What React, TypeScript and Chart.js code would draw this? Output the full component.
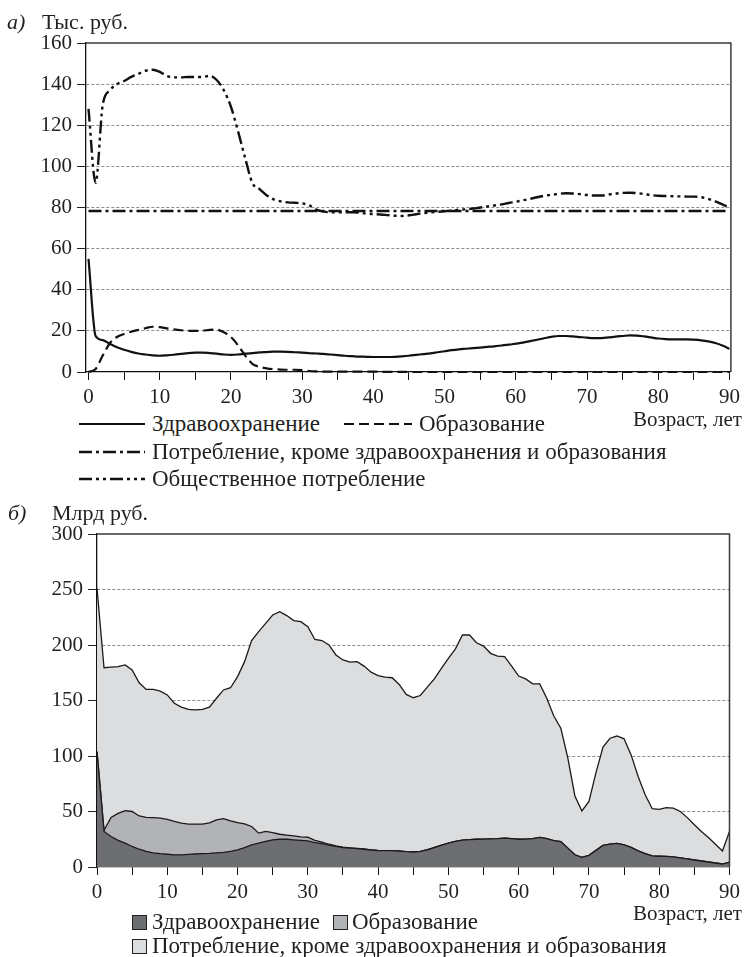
import React, { useEffect, useRef } from "react";
import { Chart, registerables } from "chart.js";
Chart.register(...registerables);

// ---------- data ----------
const AGES = [
  0, 1, 2, 3, 4, 5, 6, 7, 8, 9,
  10, 11, 12, 13, 14, 15, 16, 17, 18, 19,
  20, 21, 22, 23, 24, 25, 26, 27, 28, 29,
  30, 31, 32, 33, 34, 35, 36, 37, 38, 39,
  40, 41, 42, 43, 44, 45, 46, 47, 48, 49,
  50, 51, 52, 53, 54, 55, 56, 57, 58, 59,
  60, 61, 62, 63, 64, 65, 66, 67, 68, 69,
  70, 71, 72, 73, 74, 75, 76, 77, 78, 79,
  80, 81, 82, 83, 84, 85, 86, 87, 88, 89,
  90,
];
const X_TICKS = [0, 5, 10, 15, 20, 25, 30, 35, 40, 45, 50, 55, 60, 65, 70, 75, 80, 85, 90];

// (a) per capita, thousand rubles
const HEALTH_PC = [
  55, 17.5, 15.5, 13.7, 12, 10.8, 9.8, 9, 8.5, 8.1,
  7.9, 8.1, 8.4, 8.8, 9.2, 9.4, 9.4, 9.2, 8.9, 8.5,
  8.3, 8.5, 8.9, 9.2, 9.5, 9.7, 9.9, 9.9, 9.8, 9.6,
  9.4, 9.2, 9.0, 8.8, 8.5, 8.2, 7.9, 7.7, 7.5, 7.4,
  7.3, 7.3, 7.3, 7.4, 7.6, 7.9, 8.3, 8.7, 9.1, 9.6,
  10.1, 10.6, 11, 11.3, 11.6, 11.9, 12.2, 12.5, 12.9, 13.3,
  13.8, 14.3, 15, 15.7, 16.4, 17.1, 17.5, 17.5, 17.3, 17,
  16.7, 16.5, 16.5, 16.8, 17.2, 17.5, 17.8, 17.7, 17.3, 16.8,
  16.3, 16, 15.9, 15.9, 15.9, 15.7, 15.4, 14.9, 14.1, 12.9,
  11.3,
];
const EDU_PC = [
  0, 1.5, 8, 14, 17, 18.5, 19.6, 20.5, 21.3, 22,
  21.8, 21.2, 20.7, 20.3, 20, 20, 20.1, 20.5, 20.6, 19.3,
  17, 13, 8, 4, 2.5, 1.8, 1.4, 1.2, 1.1, 1.1,
  0.9, 0.5, 0.3, 0.2, 0.2, 0.2, 0.2, 0.2, 0.2, 0.2,
  0.2, 0.1, 0.1, 0.1, 0.1, 0, 0, 0, 0, 0,
  0, 0, 0, 0, 0, 0, 0, 0, 0, 0,
  0, 0, 0, 0, 0, 0, 0, 0, 0, 0,
  0, 0, 0, 0, 0, 0, 0, 0, 0, 0,
  0, 0, 0, 0, 0, 0, 0, 0, 0, 0,
  0,
];
const OTHER_PC_AGES = [0, 10, 20, 30, 40, 50, 60, 70, 80, 90];
const OTHER_PC = [78.3, 78.3, 78.3, 78.3, 78.3, 78.3, 78.3, 78.3, 78.3, 78.3];
const SOCIAL_PC = [
  128, 92, 130, 137, 140, 141.5, 143.5, 145, 146.5, 147,
  146, 144, 143.3, 143.3, 143.5, 143.5, 143.5, 144, 142, 137,
  129, 117, 104, 92, 89, 86, 84, 83, 82.5, 82.3,
  82, 81, 79, 78, 77.7, 77.7, 77.7, 77.7, 77.5, 77,
  76.8, 76.6, 76.3, 76, 75.9, 76.2, 76.7, 77.2, 77.6, 77.9,
  78.2, 78.5, 78.9, 79.1, 79.5, 80, 80.5, 81, 81.5, 82.2,
  82.8, 83.5, 84.2, 85, 85.7, 86.2, 86.6, 86.9, 86.8, 86.5,
  86.1, 85.8, 85.8, 86.3, 86.8, 87.1, 87.2, 87, 86.6, 86,
  85.7, 85.6, 85.5, 85.4, 85.3, 85.3, 85, 84.2, 83, 81.5,
  80,
];

// (b) totals, billion rubles (stacked)
const HEALTH_BN = [
  104, 32, 27.5, 24, 21.5, 18.5, 16, 14, 12.8, 12,
  11.5, 11, 11, 11.3, 11.7, 12, 12.3, 12.8, 13.2, 14,
  15.5, 17.5, 20, 21.5, 23, 24.5, 25, 25, 24.5, 24,
  23.5, 22, 21, 19.8, 18.5, 17.5, 17, 16.5, 16, 15.3,
  14.8, 14.7, 14.7, 14.3, 13.8, 13.5, 14, 15.5, 17.5, 19.5,
  21.5, 23, 24.3, 24.7, 25, 25.2, 25.3, 25.5, 26, 25.5,
  25, 25.2, 25.5, 26.7, 25.5, 23.8, 22.8, 17, 11, 8.7,
  10.5, 15, 19.5, 20.7, 21.3, 20, 17.7, 14.5, 12, 10,
  9.7, 9.5, 9.2, 8.3, 7.3, 6.3, 5.4, 4.5, 3.6, 2.7,
  4.5,
];
const EDU_BN = [
  0, 1, 17.2, 24.3, 29.3, 31.5, 30, 30.7, 31.7, 32,
  31.5, 30, 28.5, 27.4, 27, 26.7, 27.4, 29.7, 30.3, 27.5,
  24.5, 21.3, 16.5, 9, 9, 6.5, 4.5, 3.8, 3.5, 3.2,
  3.3, 2, 1.5, 0.7, 0.5, 0.4, 0.3, 0.3, 0.2, 0.2,
  0.1, 0.1, 0.1, 0.1, 0.1, 0.1, 0.1, 0.1, 0.1, 0.1,
  0.1, 0, 0, 0, 0, 0, 0, 0, 0, 0,
  0, 0, 0, 0, 0, 0, 0, 0, 0, 0,
  0, 0, 0, 0, 0, 0, 0, 0, 0, 0,
  0, 0, 0, 0, 0, 0, 0, 0, 0, 0,
  0,
];
const OTHER_BN = [
  147, 146.5, 135.3, 132.2, 131.2, 127.5, 120, 115.3, 115.5, 114.5,
  112, 106.5, 104.5, 103.3, 102.8, 103.3, 104.3, 109.5, 116, 120,
  131.5, 146.2, 167.5, 181.5, 187.5, 196, 200.5, 197.7, 194, 193.8,
  189.7, 181, 181.5, 179.5, 172, 168.6, 167.2, 168.2, 164.8, 160,
  157.6, 156.2, 155.7, 150.1, 141.6, 138.9, 140.4, 146.4, 151.9, 159.4,
  166.4, 173.5, 184.7, 184.3, 177, 173.8, 167.2, 164.5, 163.5, 155.5,
  147, 144.3, 139.5, 138.3, 126.5, 112.2, 102.2, 81, 53, 41.8,
  48.5, 70, 88.5, 95.3, 96.7, 95.5, 83.3, 67, 53, 42.5,
  42.3, 44, 43.8, 41.7, 37.2, 31.7, 26.6, 22, 16.9, 11.7,
  27.5,
];

const LABEL_A = "Тыс. руб.";
const LABEL_B = "Млрд руб.";
const X_TITLE = "Возраст, лет";
const SERIES_A = [
  "Здравоохранение",
  "Образование",
  "Потребление, кроме здравоохранения и образования",
  "Общественное потребление",
];
const SERIES_B = [
  "Здравоохранение",
  "Образование",
  "Потребление, кроме здравоохранения и образования",
];

// ---------- styles ----------
const FONT = '"Liberation Serif", "Times New Roman", serif';
const INK = "#231f20";
const GRID = "#8c8c8c";
const TICK_SIZE = 21;
const LEGEND_SIZE = 23;
const DASH_EDU = [10, 5];
const DASH_OTHER = [13, 4, 3, 4];
const DASH_SOCIAL = [13, 4, 3, 4, 3, 4];
const FILL_HEALTH = "#6d6e71";
const FILL_EDU = "#b2b3b6";
const FILL_OTHER = "#dcdddf";

const framePlugin = {
  id: "frame",
  afterDatasetsDraw(chart: any) {
    const { ctx, chartArea } = chart;
    ctx.save();
    ctx.strokeStyle = "#3a3a3a";
    ctx.lineWidth = 1.5;
    ctx.beginPath();
    ctx.moveTo(chartArea.left, chartArea.top);
    ctx.lineTo(chartArea.right, chartArea.top);
    ctx.lineTo(chartArea.right, chartArea.bottom);
    ctx.stroke();
    ctx.restore();
  },
};

function xScale(min: number, max: number, height: number) {
  return {
    type: "linear",
    min,
    max,
    afterBuildTicks: (s: any) => {
      s.ticks = X_TICKS.map((v) => ({ value: v }));
    },
    afterFit: (s: any) => {
      s.height = height;
    },
    ticks: {
      autoSkip: false,
      maxRotation: 0,
      padding: 5,
      color: INK,
      font: { family: FONT, size: TICK_SIZE },
      callback: (v: any) => (Number(v) % 10 === 0 ? String(v) : ""),
    },
    grid: {
      drawOnChartArea: false,
      drawTicks: true,
      tickLength: 8,
      tickColor: "#111",
      tickWidth: 1,
    },
    border: { display: true, color: "#111", width: 1.3 },
  };
}

function yScale(max: number, step: number, width: number, stacked: boolean) {
  return {
    type: "linear",
    min: 0,
    max,
    stacked,
    afterFit: (s: any) => {
      s.width = width;
    },
    ticks: {
      stepSize: step,
      padding: 5,
      color: INK,
      font: { family: FONT, size: TICK_SIZE },
    },
    grid: {
      drawTicks: true,
      tickLength: 9,
      tickColor: "#222",
      tickWidth: 1,
      lineWidth: 1,
      color: (c: any) =>
        c.tick && (c.tick.value === 0 || c.tick.value === max) ? "rgba(0,0,0,0)" : GRID,
    },
    border: { display: true, color: "#111", width: 1.3, dash: [3, 2] },
  };
}

function Txt(props: {
  x?: number;
  right?: number;
  cy: number;
  size?: number;
  italic?: boolean;
  children: React.ReactNode;
}) {
  const size = props.size || LEGEND_SIZE;
  const style: React.CSSProperties = {
    position: "absolute",
    top: props.cy - size * 0.62,
    fontSize: size,
    lineHeight: `${size * 1.2}px`,
    fontStyle: props.italic ? "italic" : "normal",
    whiteSpace: "nowrap",
  };
  if (props.right !== undefined) style.right = 745 - props.right;
  else style.left = props.x;
  return <div style={style}>{props.children}</div>;
}

function LineSample(props: { x1: number; x2: number; cy: number; dash?: number[]; w?: number }) {
  return (
    <svg
      style={{ position: "absolute", left: props.x1, top: props.cy - 4 }}
      width={props.x2 - props.x1}
      height={8}
    >
      <line
        x1={0}
        y1={4}
        x2={props.x2 - props.x1}
        y2={4}
        stroke="#111"
        strokeWidth={props.w || 2.2}
        strokeDasharray={props.dash ? props.dash.join(" ") : undefined}
      />
    </svg>
  );
}

function Swatch(props: { x: number; cy: number; fill: string }) {
  return (
    <div
      style={{
        position: "absolute",
        left: props.x,
        top: props.cy - 7,
        width: 13,
        height: 13,
        background: props.fill,
        border: "1px solid #222",
      }}
    />
  );
}

export default function App() {
  const topRef = useRef<HTMLCanvasElement>(null);
  const botRef = useRef<HTMLCanvasElement>(null);

  useEffect(() => {
    document.body.style.margin = "0";
    const pts = (ys: number[], xs: number[] = AGES) => xs.map((x, i) => ({ x, y: ys[i] }));

    const top = new Chart(topRef.current as HTMLCanvasElement, {
      type: "line",
      data: {
        datasets: [
          {
            label: SERIES_A[0],
            data: pts(HEALTH_PC),
            borderColor: "#111",
            borderWidth: 2.2,
            pointRadius: 0,
            cubicInterpolationMode: "monotone",
            clip: 6,
          },
          {
            label: SERIES_A[1],
            data: pts(EDU_PC),
            borderColor: "#111",
            borderWidth: 2.2,
            borderDash: DASH_EDU,
            pointRadius: 0,
            cubicInterpolationMode: "monotone",
            clip: 6,
          },
          {
            label: SERIES_A[2],
            data: pts(OTHER_PC, OTHER_PC_AGES),
            borderColor: "#111",
            borderWidth: 2.7,
            borderDash: DASH_OTHER,
            pointRadius: 0,
            clip: 6,
          },
          {
            label: SERIES_A[3],
            data: pts(SOCIAL_PC),
            borderColor: "#111",
            borderWidth: 2.4,
            borderDash: DASH_SOCIAL,
            pointRadius: 0,
            cubicInterpolationMode: "monotone",
            clip: 6,
          },
        ],
      } as any,
      options: {
        animation: false,
        responsive: false,
        devicePixelRatio: 1,
        layout: { padding: { top: 43, left: 0, right: 11, bottom: 0 } },
        plugins: { legend: { display: false }, tooltip: { enabled: false } },
        scales: {
          x: xScale(-0.35, 90.2, 38),
          y: yScale(160, 20, 86, false),
        },
      } as any,
      plugins: [framePlugin],
    });

    const bot = new Chart(botRef.current as HTMLCanvasElement, {
      type: "line",
      data: {
        datasets: [
          {
            label: SERIES_B[0],
            data: pts(HEALTH_BN),
            borderColor: "#1a1a1a",
            borderWidth: 1.3,
            backgroundColor: FILL_HEALTH,
            fill: "origin",
            pointRadius: 0,
            tension: 0,
          },
          {
            label: SERIES_B[1],
            data: pts(EDU_BN),
            borderColor: "#1a1a1a",
            borderWidth: 1.3,
            backgroundColor: FILL_EDU,
            fill: "-1",
            pointRadius: 0,
            tension: 0,
          },
          {
            label: SERIES_B[2],
            data: pts(OTHER_BN),
            borderColor: "#1a1a1a",
            borderWidth: 1.3,
            backgroundColor: FILL_OTHER,
            fill: "-1",
            pointRadius: 0,
            tension: 0,
          },
        ],
      } as any,
      options: {
        animation: false,
        responsive: false,
        devicePixelRatio: 1,
        layout: { padding: { top: 44, left: 0, right: 11, bottom: 0 } },
        plugins: { legend: { display: false }, tooltip: { enabled: false }, filler: { propagate: false } },
        scales: {
          x: xScale(0, 90, 43),
          y: yScale(300, 50, 97, true),
        },
      } as any,
      plugins: [framePlugin],
    });

    return () => {
      top.destroy();
      bot.destroy();
    };
  }, []);

  return (
    <div
      style={{
        position: "absolute",
        left: 0,
        top: 0,
        width: 745,
        height: 957,
        background: "#fff",
        color: INK,
        fontFamily: FONT,
        overflow: "hidden",
      }}
    >
      <canvas
        ref={topRef}
        width={745}
        height={410}
        style={{ position: "absolute", left: 0, top: 0, width: 745, height: 410 }}
      />
      <canvas
        ref={botRef}
        width={745}
        height={420}
        style={{ position: "absolute", left: 0, top: 490, width: 745, height: 420 }}
      />

      <Txt x={7} cy={23} size={22} italic>а)</Txt>
      <Txt x={42} cy={23} size={22}>{LABEL_A}</Txt>

      <Txt right={742} cy={420} size={21}>{X_TITLE}</Txt>
      <LineSample x1={79} x2={145} cy={424} />
      <Txt x={152} cy={424}>{SERIES_A[0]}</Txt>
      <LineSample x1={344} x2={412} cy={424} dash={DASH_EDU} />
      <Txt x={419} cy={424}>{SERIES_A[1]}</Txt>
      <LineSample x1={79} x2={145} cy={452} dash={DASH_OTHER} w={2.6} />
      <Txt x={152} cy={452}>{SERIES_A[2]}</Txt>
      <LineSample x1={79} x2={145} cy={479} dash={DASH_SOCIAL} w={2.4} />
      <Txt x={152} cy={479}>{SERIES_A[3]}</Txt>

      <Txt x={8} cy={514} size={22} italic>б)</Txt>
      <Txt x={52} cy={514} size={22}>{LABEL_B}</Txt>

      <Txt right={742} cy={914} size={21}>{X_TITLE}</Txt>
      <Swatch x={132} cy={922} fill={FILL_HEALTH} />
      <Txt x={152} cy={922}>{SERIES_B[0]}</Txt>
      <Swatch x={333} cy={922} fill={FILL_EDU} />
      <Txt x={352} cy={922}>{SERIES_B[1]}</Txt>
      <Swatch x={132} cy={946} fill={FILL_OTHER} />
      <Txt x={152} cy={946}>{SERIES_B[2]}</Txt>
    </div>
  );
}
